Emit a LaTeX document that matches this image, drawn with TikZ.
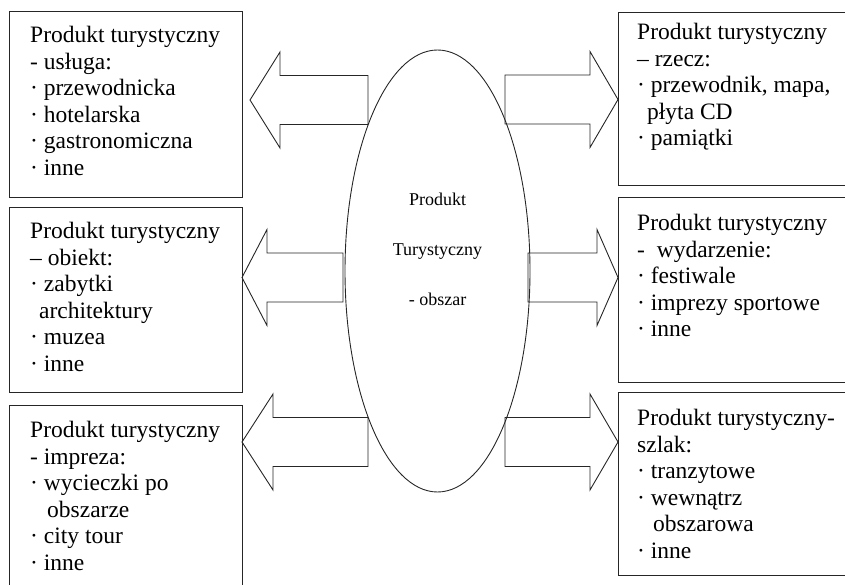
\documentclass[tikz,border=0pt]{standalone}
\usepackage{fontspec}
\setmainfont{Liberation Serif}
\usetikzlibrary{shapes.geometric}

\begin{document}
\begin{tikzpicture}[x=1pt,y=-1pt]
	
	\tikzset{ramka/.style = {shape=rectangle,draw=black!85,line width=0.9pt,inner sep=0pt,anchor=north west}}
	\tikzset{opis/.style = {anchor=north west,align=left,inner sep=0pt,font=\fontsize{23.5}{26.5}\selectfont}}
	\tikzset{strzalka/.style = {draw=black!85,line width=0.9pt,line join=miter}}
	
	\useasboundingbox (0,0) rectangle (845,585);
	\clip (0,0) rectangle (845,585);
	
	\node[shape=ellipse,draw=black!85,line width=0.9pt,inner sep=0pt,minimum width=185pt,minimum height=442pt] (obszar) at (437.5,271) {};
	\node[anchor=north,align=center,inner sep=0pt,font=\fontsize{18}{50}\selectfont] (obszarOpis) at (437.5,193) {Produkt\\Turystyczny\\- obszar};
	
	\node[ramka,minimum width=233pt,minimum height=186pt] (usluga) at (9,11) {};
	\node[ramka,minimum width=233pt,minimum height=185pt] (obiekt) at (9,207) {};
	\node[ramka,minimum width=233pt,minimum height=190pt] (impreza) at (9,405) {};
	\node[ramka,minimum width=235pt,minimum height=173pt] (rzecz) at (618,12) {};
	\node[ramka,minimum width=235pt,minimum height=185pt] (wydarzenie) at (618,197) {};
	\node[ramka,minimum width=235pt,minimum height=183pt] (szlak) at (618,392) {};
	
	\node[opis] (uslugaOpis) at (30,26) {Produkt turystyczny\\- usługa:\\· przewodnicka\\· hotelarska\\· gastronomiczna\\· inne};
	\node[opis] (obiektOpis) at (30,222) {Produkt turystyczny\\– obiekt:\\· zabytki\\\hspace*{9pt}architektury\\· muzea\\· inne};
	\node[opis] (imprezaOpis) at (30,421) {Produkt turystyczny\\- impreza:\\· wycieczki po\\\hspace*{17pt}obszarze\\· city tour\\· inne};
	\node[opis] (rzeczOpis) at (637,23) {Produkt turystyczny\\– rzecz:\\· przewodnik, mapa,\\\hspace*{10pt}płyta CD\\· pamiątki};
	\node[opis] (wydarzenieOpis) at (637,214) {Produkt turystyczny\\-\ \ wydarzenie:\\· festiwale\\· imprezy sportowe\\· inne};
	\node[opis] (szlakOpis) at (637,409) {Produkt turystyczny-\\szlak:\\· tranzytowe\\· wewnątrz\\\hspace*{16pt}obszarowa\\· inne};
	
	% back / head base / tip / middle
	\foreach \tyl/\baza/\grot/\y in {368/280/250/100, 343/267/242/277.5, 368/273/242/442,
		505/590/618/99.5, 528/597/618/277.5, 505/590/618/442}
		\draw[strzalka] (\tyl,\y-24.5) -- (\baza,\y-24.5) -- (\baza,\y-48) -- (\grot,\y)
			-- (\baza,\y+48) -- (\baza,\y+24.5) -- (\tyl,\y+24.5) -- cycle;
	
\end{tikzpicture}
\end{document}
